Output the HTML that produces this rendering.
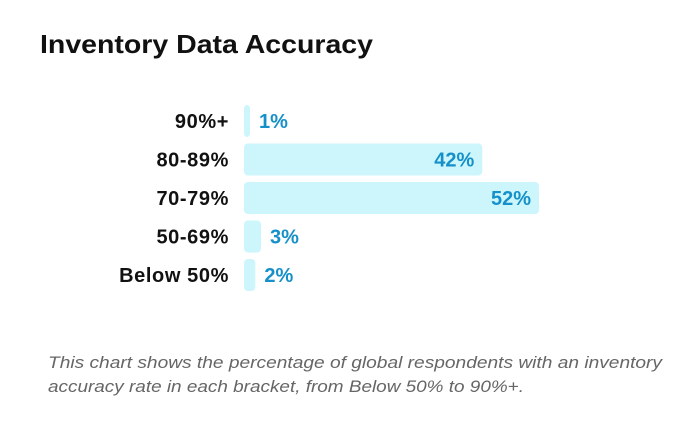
<!DOCTYPE html>
<html><head><meta charset="utf-8"><style>
body{margin:0;width:700px;height:441px;background:#fff;font-family:"Liberation Sans",sans-serif;overflow:hidden}
</style></head><body>
<svg width="700" height="441">
<text x="40" y="53" font-size="26" font-weight="bold" fill="#111" textLength="333" lengthAdjust="spacingAndGlyphs">Inventory Data Accuracy</text>
<g id="bars"></g>
<text font-size="17" font-style="italic" fill="#666"><tspan x="48" y="368" textLength="614" lengthAdjust="spacingAndGlyphs">This chart shows the percentage of global respondents with an inventory</tspan><tspan x="48" y="392" textLength="476" lengthAdjust="spacingAndGlyphs">accuracy rate in each bracket, from Below 50% to 90%+.</tspan></text>
</svg>
<script>
const categories=["90%+","80-89%","70-79%","50-69%","Below 50%"];
const values=[1,42,52,3,2];
const valueLabels=["1%","42%","52%","3%","2%"];
const g=document.getElementById('bars');
const ns="http://www.w3.org/2000/svg";
const x0=244, pxPer=295/52, top0=105, step=38.5, bh=32;
const xs=v=>Math.max(6,v*pxPer);
categories.forEach((c,i)=>{
  const y=top0+i*step, w=xs(values[i]);
  const r=document.createElementNS(ns,'rect');
  r.setAttribute('x',x0);r.setAttribute('y',y);r.setAttribute('width',w);r.setAttribute('height',bh);
  r.setAttribute('rx',4);r.setAttribute('fill','#ccf6fc');
  
  
  g.appendChild(r);
  const t=document.createElementNS(ns,'text');
  t.setAttribute('x',229);t.setAttribute('y',y+bh/2+7);t.setAttribute('text-anchor','end');
  t.setAttribute('font-size','20');t.setAttribute('font-weight','bold');t.setAttribute('fill','#111');
  t.setAttribute('letter-spacing','0.6');
  t.textContent=c;
  
  
  g.appendChild(t);
  const v=document.createElementNS(ns,'text');
  const inside=w>60;
  v.setAttribute('x',inside?x0+w-8:x0+w+9);v.setAttribute('y',y+bh/2+7);
  v.setAttribute('text-anchor',inside?'end':'start');
  v.setAttribute('font-size','20');v.setAttribute('font-weight','bold');v.setAttribute('fill','#1690c9');
  v.textContent=valueLabels[i];
  
  
  g.appendChild(v);
});
</script>
</body></html>
